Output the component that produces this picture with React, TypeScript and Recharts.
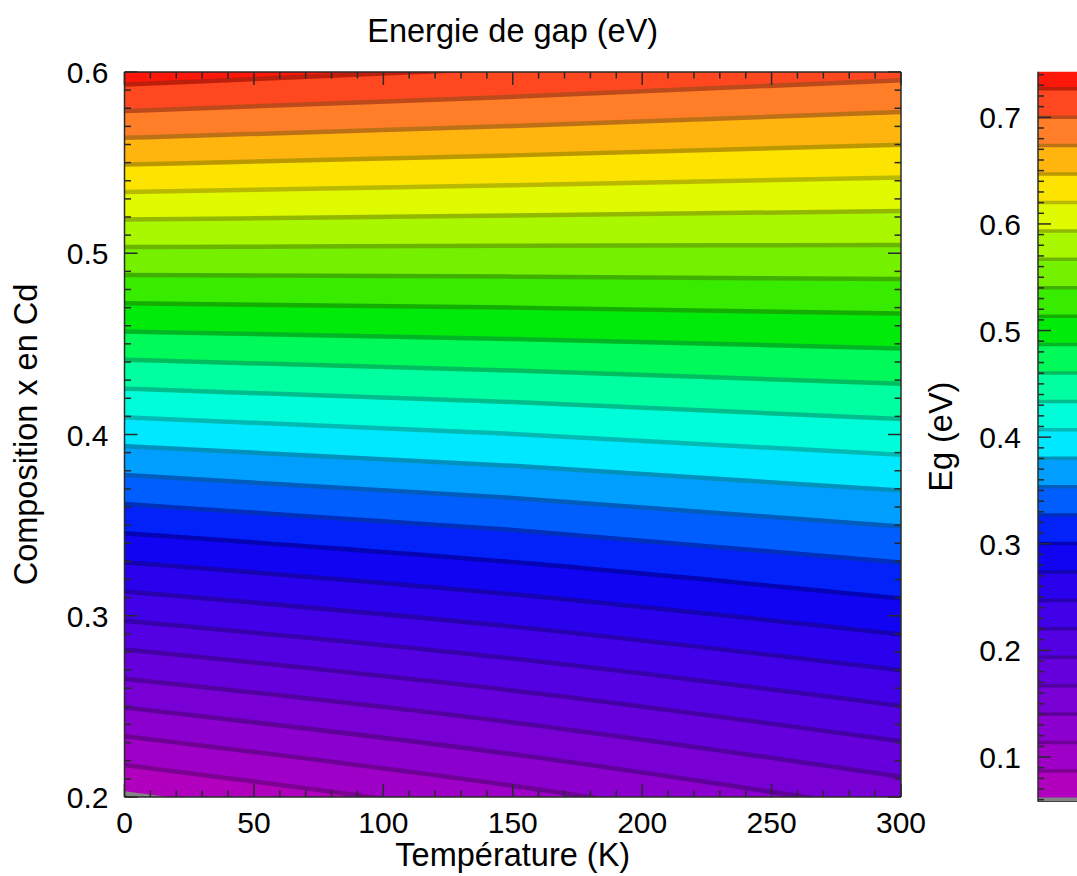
import React from 'react';
import {
  ComposedChart,
  Area,
  Line,
  XAxis,
  YAxis,
  ReferenceArea,
  ReferenceLine,
  Label,
} from 'recharts';

// Temperatures (K) at which each iso-gap contour is sampled
const temperatures = [0, 150, 300];

// Contour levels of the band gap Eg (eV)
const gapLevels = [
  0.0603, 0.087, 0.1136, 0.1403, 0.1669, 0.1936, 0.2203, 0.2469, 0.2736, 0.3002,
  0.3269, 0.3536, 0.3802, 0.4069, 0.4335, 0.4602, 0.4869, 0.5135, 0.5402, 0.5668,
  0.5935, 0.6202, 0.6468, 0.6735, 0.7001, 0.7268,
];

// Cd composition x where each contour level is reached, per temperature
const compositionAt0K = [
  0.202, 0.2177, 0.2335, 0.2494, 0.2653, 0.2814, 0.2973, 0.3134, 0.3295, 0.3455,
  0.3616, 0.3776, 0.3936, 0.4095, 0.4253, 0.4412, 0.4568, 0.4724, 0.488, 0.5034,
  0.5186, 0.5338, 0.5489, 0.5637, 0.5785, 0.5931,
];
const compositionAt150K = [
  0.1719, 0.189, 0.2062, 0.2236, 0.2411, 0.2587, 0.2764, 0.294, 0.3118, 0.3296,
  0.3473, 0.365, 0.3827, 0.4003, 0.4179, 0.4353, 0.4527, 0.47, 0.4871, 0.5041,
  0.5208, 0.5375, 0.554, 0.5702, 0.5863, 0.6022,
];
const compositionAt300K = [
  0.1354, 0.154, 0.1729, 0.1919, 0.2112, 0.2307, 0.2502, 0.2699, 0.2897, 0.3095,
  0.3294, 0.3492, 0.3691, 0.3888, 0.4085, 0.428, 0.4475, 0.4667, 0.4858, 0.5046,
  0.5233, 0.5418, 0.5599, 0.5779, 0.5955, 0.6128,
];

// Range of Eg covered by the colour bar (eV)
const gapMin = 0.0581;
const gapMax = 0.7428;

// Composition extents used to close the outermost filled regions
const compositionFloor = 0.05;
const compositionCeil = 0.75;

// Axis tick labels
const temperatureTickLabels = [0, 50, 100, 150, 200, 250, 300];
const compositionTickLabels = [0.2, 0.3, 0.4, 0.5, 0.6];
const gapTickLabels = [0.1, 0.2, 0.3, 0.4, 0.5, 0.6, 0.7];

// Rainbow palette: Eg value -> RGB
const rainbowStops: [number, [number, number, number]][] = [
  [0.058, [190, 0, 185]],
  [0.1, [158, 0, 200]],
  [0.15, [122, 0, 212]],
  [0.2, [88, 0, 225]],
  [0.25, [52, 0, 235]],
  [0.3, [5, 5, 245]],
  [0.33, [0, 70, 255]],
  [0.36, [0, 140, 255]],
  [0.4, [0, 250, 255]],
  [0.43, [0, 255, 200]],
  [0.46, [0, 255, 130]],
  [0.49, [0, 245, 40]],
  [0.5, [0, 235, 10]],
  [0.52, [40, 235, 0]],
  [0.55, [110, 240, 0]],
  [0.59, [190, 250, 0]],
  [0.62, [250, 250, 0]],
  [0.65, [255, 200, 0]],
  [0.68, [255, 140, 40]],
  [0.71, [255, 80, 35]],
  [0.745, [255, 0, 0]],
];

const FONT = '"Liberation Sans", Arial, Helvetica, sans-serif';
const TICK_FS = 30;
const TITLE_FS = 32.5;
const AXIS_COLOR = '#2a2a2a';

function colorAt(v: number): [number, number, number] {
  if (v <= rainbowStops[0][0]) return rainbowStops[0][1];
  for (let i = 1; i < rainbowStops.length; i++) {
    const [v1, c1] = rainbowStops[i];
    if (v <= v1) {
      const [v0, c0] = rainbowStops[i - 1];
      const t = (v - v0) / (v1 - v0);
      return [0, 1, 2].map((j) => c0[j] + (c1[j] - c0[j]) * t) as [number, number, number];
    }
  }
  return rainbowStops[rainbowStops.length - 1][1];
}

function rgb(c: [number, number, number], k = 1): string {
  return `rgb(${Math.round(c[0] * k)},${Math.round(c[1] * k)},${Math.round(c[2] * k)})`;
}

// Filled regions: below the lowest level, between successive levels, above the highest
type Band = { lo: number; hi: number; color: string; idx: number };
const bands: Band[] = [];
for (let b = -1; b < gapLevels.length; b++) {
  const lo = b < 0 ? gapMin : gapLevels[b];
  const hi = b + 1 < gapLevels.length ? gapLevels[b + 1] : gapMax;
  const color = b < 0 ? '#000000' : rgb(colorAt((lo + hi) / 2));
  bands.push({ lo, hi, color, idx: b });
}

function lineColor(k: number): string {
  if (k === 0) return '#858585';
  return rgb(colorAt(gapLevels[k]), 0.74);
}

const contourColumns = [compositionAt0K, compositionAt150K, compositionAt300K];
const rows = temperatures.map((T, i) => ({ T, lines: contourColumns[i] }));

const tempTicks: number[] = [];
for (let t = 0; t <= 300; t += 10) tempTicks.push(t);
const compTicks: number[] = [];
for (let i = 0; i <= 40; i++) compTicks.push(Math.round((0.2 + i * 0.01) * 100) / 100);
const gapTicks: number[] = [];
for (let i = 6; i <= 74; i++) gapTicks.push(i / 100);

const isMajorTemp = (v: number) => temperatureTickLabels.includes(v);
const isMajor01 = (v: number, list: number[]) =>
  list.some((m) => Math.abs(m - v) < 1e-6);

function BottomTick(props: any) {
  const { x, y, payload } = props;
  const v = payload.value;
  const major = isMajorTemp(v);
  return (
    <g>
      <line x1={x} y1={y} x2={x} y2={y - (major ? 13 : 6.5)} stroke={AXIS_COLOR} strokeWidth={1.5} />
      {major && (
        <text x={x} y={y + 36} textAnchor="middle" fontSize={TICK_FS} fontFamily={FONT} fill="#000">
          {v}
        </text>
      )}
    </g>
  );
}

function TopTick(props: any) {
  const { x, y, payload } = props;
  const major = isMajorTemp(payload.value);
  return <line x1={x} y1={y} x2={x} y2={y + (major ? 13 : 6.5)} stroke={AXIS_COLOR} strokeWidth={1.5} />;
}

function LeftTick(props: any) {
  const { x, y, payload } = props;
  const v = payload.value;
  const major = isMajor01(v, compositionTickLabels);
  return (
    <g>
      <line x1={x} y1={y} x2={x + (major ? 13 : 6.5)} y2={y} stroke={AXIS_COLOR} strokeWidth={1.5} />
      {major && (
        <text x={x - 16} y={y + 11} textAnchor="end" fontSize={TICK_FS} fontFamily={FONT} fill="#000">
          {v.toFixed(1)}
        </text>
      )}
    </g>
  );
}

function RightTick(props: any) {
  const { x, y, payload } = props;
  const major = isMajor01(payload.value, compositionTickLabels);
  return <line x1={x} y1={y} x2={x - (major ? 13 : 6.5)} y2={y} stroke={AXIS_COLOR} strokeWidth={1.5} />;
}

function BarTick(props: any) {
  const { x, y, payload } = props;
  const v = payload.value;
  const major = isMajor01(v, gapTickLabels);
  return (
    <g>
      <line x1={x} y1={y} x2={x + (major ? 13 : 6)} y2={y} stroke={AXIS_COLOR} strokeWidth={1.5} />
      {major && (
        <text x={x - 17} y={y + 11} textAnchor="end" fontSize={TICK_FS} fontFamily={FONT} fill="#000">
          {v.toFixed(1)}
        </text>
      )}
    </g>
  );
}

const labelFont = { fontSize: TITLE_FS, fontFamily: FONT, fill: '#000' };

function GapContourChart() {
  return (
    <ComposedChart
      width={960}
      height={876}
      data={rows}
      margin={{ top: 62, right: 49, bottom: 4, left: 14.5 }}
    >
      <XAxis
        dataKey="T"
        type="number"
        domain={[0, 300]}
        allowDataOverflow
        ticks={tempTicks}
        interval={0}
        tick={<BottomTick />}
        tickLine={false}
        tickSize={0}
        tickMargin={0}
        height={75}
        axisLine={{ stroke: AXIS_COLOR, strokeWidth: 1.5 }}
      >
        <Label value="Température (K)" position="insideBottom" offset={6} {...labelFont} />
      </XAxis>
      <XAxis
        xAxisId="top"
        orientation="top"
        dataKey="T"
        type="number"
        domain={[0, 300]}
        allowDataOverflow
        ticks={tempTicks}
        interval={0}
        tick={<TopTick />}
        tickLine={false}
        tickSize={0}
        tickMargin={0}
        height={10}
        axisLine={{ stroke: AXIS_COLOR, strokeWidth: 1.5 }}
      >
        <Label value="Energie de gap (eV)" position="top" offset={20} {...labelFont} />
      </XAxis>
      <YAxis
        type="number"
        domain={[0.2, 0.6]}
        allowDataOverflow
        ticks={compTicks}
        interval={0}
        tick={<LeftTick />}
        tickLine={false}
        tickSize={0}
        tickMargin={0}
        width={110}
        axisLine={{ stroke: AXIS_COLOR, strokeWidth: 1.5 }}
      >
        <Label
          value="Composition x en Cd"
          angle={-90}
          position="insideLeft"
          offset={11}
          style={{ textAnchor: 'middle' }}
          {...labelFont}
        />
      </YAxis>
      <YAxis
        yAxisId="right"
        orientation="right"
        type="number"
        domain={[0.2, 0.6]}
        allowDataOverflow
        ticks={compTicks}
        interval={0}
        tick={<RightTick />}
        tickLine={false}
        tickSize={0}
        tickMargin={0}
        width={10}
        axisLine={{ stroke: AXIS_COLOR, strokeWidth: 1.5 }}
      />
      {bands.map((b) => (
        <Area
          key={`band-${b.idx}`}
          type="monotone"
          dataKey={(r: any) => [
            b.idx < 0 ? compositionFloor : r.lines[b.idx],
            b.idx + 1 < gapLevels.length ? r.lines[b.idx + 1] : compositionCeil,
          ]}
          fill={b.color}
          fillOpacity={1}
          stroke={b.color}
          strokeWidth={1}
          isAnimationActive={false}
          dot={false}
          activeDot={false}
        />
      ))}
      {gapLevels.map((lvl, k) => (
        <Line
          key={`contour-${k}`}
          type="monotone"
          dataKey={(r: any) => r.lines[k]}
          stroke={lineColor(k)}
          strokeWidth={4.5}
          dot={false}
          activeDot={false}
          isAnimationActive={false}
        />
      ))}
    </ComposedChart>
  );
}

const barRows = [{ u: 0 }, { u: 1 }];

function ColorBar() {
  return (
    <ComposedChart
      width={200}
      height={876}
      data={barRows}
      margin={{ top: 71.7, right: 0, bottom: 74.3, left: 78 }}
    >
      <XAxis dataKey="u" type="number" domain={[0, 1]} hide height={0} />
      <YAxis
        type="number"
        domain={[gapMin, gapMax]}
        allowDataOverflow
        ticks={gapTicks}
        interval={0}
        tick={<BarTick />}
        tickLine={false}
        tickSize={0}
        tickMargin={0}
        width={60}
        axisLine={{ stroke: AXIS_COLOR, strokeWidth: 1.5 }}
      >
        <Label
          value="Eg (eV)"
          angle={-90}
          position="insideLeft"
          offset={-38}
          style={{ textAnchor: 'middle' }}
          {...labelFont}
        />
      </YAxis>
      {bands.map((b) => (
        <ReferenceArea
          key={`cb-${b.idx}`}
          y1={b.lo}
          y2={b.hi}
          fill={b.color}
          fillOpacity={1}
          stroke="none"
        />
      ))}
      {gapLevels.map((lvl, k) => (
        <ReferenceLine key={`cbl-${k}`} y={lvl} stroke={lineColor(k)} strokeWidth={3.5} />
      ))}
    </ComposedChart>
  );
}

export default function App() {
  return (
    <div
      style={{
        position: 'absolute',
        left: 0,
        top: 0,
        width: 1077,
        height: 876,
        overflow: 'hidden',
        background: '#ffffff',
      }}
    >
      <div style={{ position: 'absolute', left: 0, top: 0 }}>
        <GapContourChart />
      </div>
      <div style={{ position: 'absolute', left: 900, top: 0 }}>
        <ColorBar />
      </div>
    </div>
  );
}
